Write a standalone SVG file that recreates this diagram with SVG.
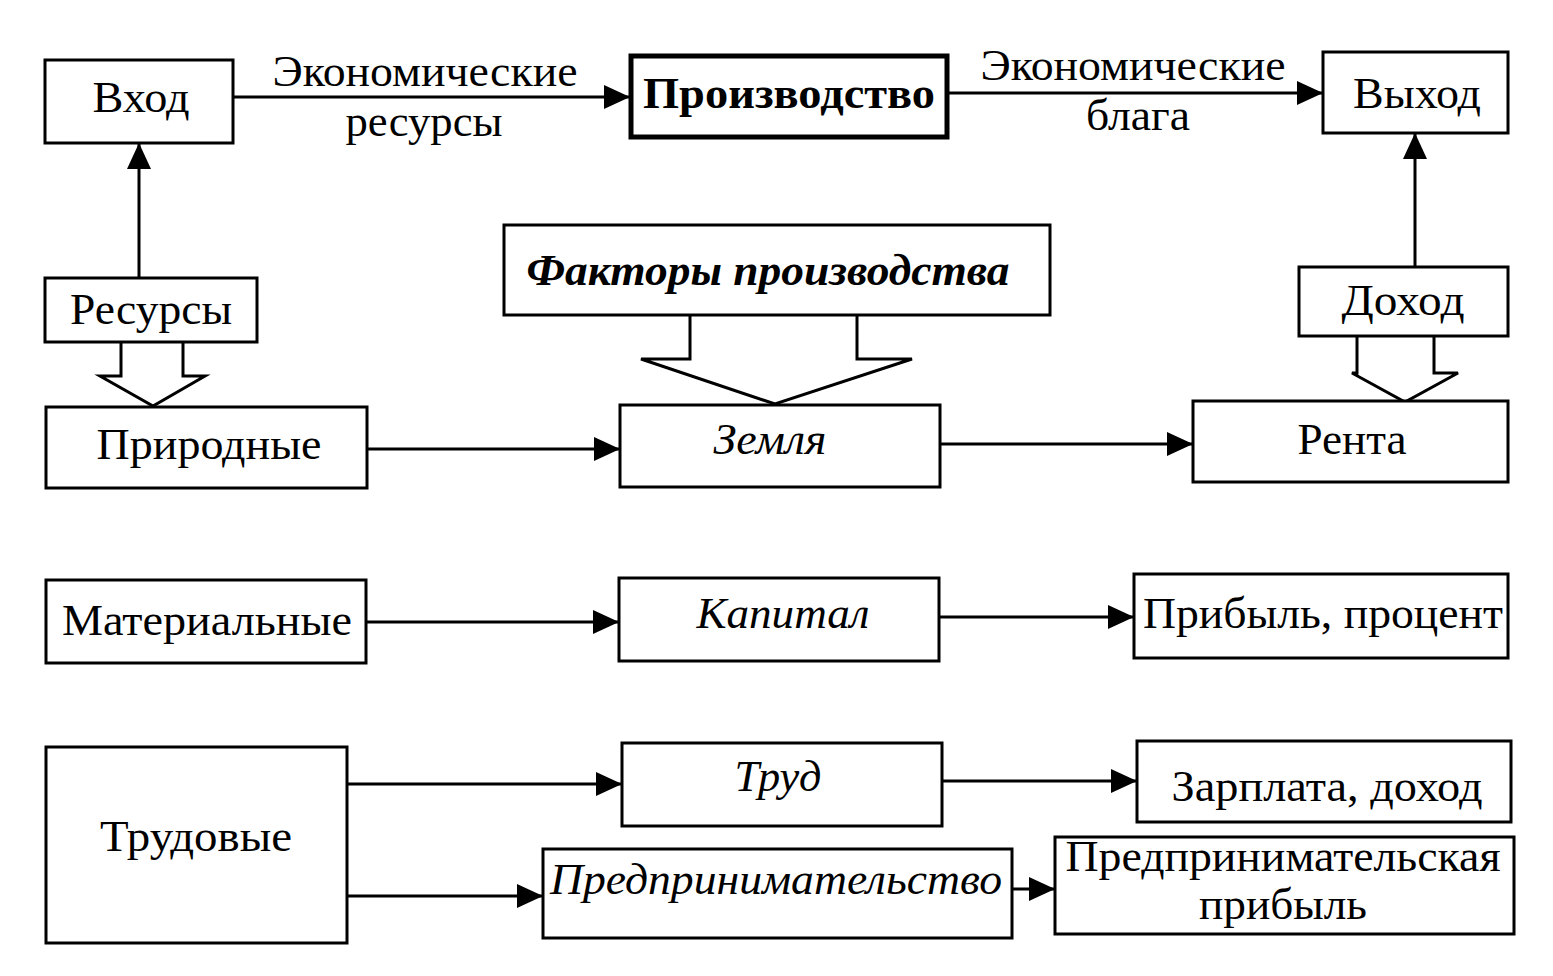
<svg xmlns="http://www.w3.org/2000/svg" width="1553" height="976" viewBox="0 0 1553 976">
<style>
.box{fill:#fff;stroke:#000;stroke-width:3}
.thick{fill:#fff;stroke:#000;stroke-width:5}
.ln{fill:none;stroke:#000;stroke-width:3}
.hol{fill:#fff;stroke:#000;stroke-width:3;stroke-linejoin:miter}
text{font-family:"Liberation Serif","Times New Roman",serif;font-size:45px;fill:#000;text-anchor:middle}
.it{font-style:italic}
.b{font-weight:bold}
</style>
<defs>
<marker id="ah" markerUnits="userSpaceOnUse" markerWidth="26" markerHeight="24" refX="26" refY="12" orient="auto">
<path d="M0,0 L26,12 L0,24 Z" fill="#000"/>
</marker>
</defs>
<rect width="1553" height="976" fill="#fff"/>
<g id="connectors">
<line class="ln" x1="233" y1="97" x2="630" y2="97" marker-end="url(#ah)"/>
<line class="ln" x1="947" y1="93" x2="1323" y2="93" marker-end="url(#ah)"/>
<line class="ln" x1="139" y1="278" x2="139" y2="143" marker-end="url(#ah)"/>
<line class="ln" x1="1415" y1="267" x2="1415" y2="133" marker-end="url(#ah)"/>
<line class="ln" x1="367" y1="449" x2="620" y2="449" marker-end="url(#ah)"/>
<line class="ln" x1="940" y1="444" x2="1193" y2="444" marker-end="url(#ah)"/>
<line class="ln" x1="366" y1="622" x2="619" y2="622" marker-end="url(#ah)"/>
<line class="ln" x1="939" y1="617" x2="1134" y2="617" marker-end="url(#ah)"/>
<line class="ln" x1="347" y1="784" x2="622" y2="784" marker-end="url(#ah)"/>
<line class="ln" x1="942" y1="781" x2="1137" y2="781" marker-end="url(#ah)"/>
<line class="ln" x1="347" y1="896" x2="543" y2="896" marker-end="url(#ah)"/>
<line class="ln" x1="1012" y1="889" x2="1055" y2="889" marker-end="url(#ah)"/>
<polygon class="hol" points="121,340 121,376 100,376 153,406 205,376 183,376 183,340"/>
<polygon class="hol" points="690,313 690,359 641,359 775,404 912,359 857,359 857,313"/>
<polygon class="hol" points="1357,334 1357,373 1352,373 1405,402 1458,373 1434,373 1434,334"/>
<text x="425" y="86" textLength="305" lengthAdjust="spacingAndGlyphs">Экономические</text>
<text x="424" y="136" textLength="157" lengthAdjust="spacingAndGlyphs">ресурсы</text>
<text x="1133" y="80" textLength="305" lengthAdjust="spacingAndGlyphs">Экономические</text>
<text x="1138" y="130" textLength="104" lengthAdjust="spacingAndGlyphs">блага</text>
</g>
<g id="vhod"><rect class="box" x="45" y="60" width="188" height="83"/><text x="141" y="112" textLength="97" lengthAdjust="spacingAndGlyphs">Вход</text></g>
<g id="proizvodstvo"><rect class="thick" x="631" y="56" width="316" height="81"/><text class="b" x="789" y="108" textLength="292" lengthAdjust="spacingAndGlyphs">Производство</text></g>
<g id="vyhod"><rect class="box" x="1323" y="52" width="185" height="81"/><text x="1417" y="108" textLength="128" lengthAdjust="spacingAndGlyphs">Выход</text></g>
<g id="resursy"><rect class="box" x="45" y="278" width="212" height="64"/><text x="151" y="324" textLength="162" lengthAdjust="spacingAndGlyphs">Ресурсы</text></g>
<g id="faktory"><rect class="box" x="504" y="225" width="546" height="90"/><text class="b it" x="768" y="285" textLength="483" lengthAdjust="spacingAndGlyphs">Факторы производства</text></g>
<g id="dohod"><rect class="box" x="1299" y="267" width="209" height="69"/><text x="1403" y="315" textLength="123" lengthAdjust="spacingAndGlyphs">Доход</text></g>
<g id="prirodnye"><rect class="box" x="46" y="407" width="321" height="81"/><text x="209" y="459" textLength="225" lengthAdjust="spacingAndGlyphs">Природные</text></g>
<g id="zemlya"><rect class="box" x="620" y="405" width="320" height="82"/><text class="it" x="770" y="454" textLength="113" lengthAdjust="spacingAndGlyphs">Земля</text></g>
<g id="renta"><rect class="box" x="1193" y="401" width="315" height="81"/><text x="1352" y="454" textLength="109" lengthAdjust="spacingAndGlyphs">Рента</text></g>
<g id="materialnye"><rect class="box" x="46" y="580" width="320" height="83"/><text x="207" y="635" textLength="290" lengthAdjust="spacingAndGlyphs">Материальные</text></g>
<g id="kapital"><rect class="box" x="619" y="578" width="320" height="83"/><text class="it" x="783" y="628" textLength="173" lengthAdjust="spacingAndGlyphs">Капитал</text></g>
<g id="pribyl"><rect class="box" x="1134" y="574" width="374" height="84"/><text x="1323" y="628" textLength="360" lengthAdjust="spacingAndGlyphs">Прибыль, процент</text></g>
<g id="trudovye"><rect class="box" x="46" y="747" width="301" height="196"/><text x="196" y="851" textLength="192" lengthAdjust="spacingAndGlyphs">Трудовые</text></g>
<g id="trud"><rect class="box" x="622" y="743" width="320" height="83"/><text class="it" x="778" y="791" textLength="87" lengthAdjust="spacingAndGlyphs">Труд</text></g>
<g id="zarplata"><rect class="box" x="1137" y="741" width="374" height="81"/><text x="1327" y="801" textLength="311" lengthAdjust="spacingAndGlyphs">Зарплата, доход</text></g>
<g id="predprinimatelstvo"><rect class="box" x="543" y="849" width="469" height="89"/><text class="it" x="776" y="894" textLength="452" lengthAdjust="spacingAndGlyphs">Предпринимательство</text></g>
<g id="predpr-pribyl"><rect class="box" x="1055" y="837" width="459" height="97"/><text x="1283" y="871" textLength="435" lengthAdjust="spacingAndGlyphs">Предпринимательская</text><text x="1283" y="919" textLength="168" lengthAdjust="spacingAndGlyphs">прибыль</text></g>
</svg>
